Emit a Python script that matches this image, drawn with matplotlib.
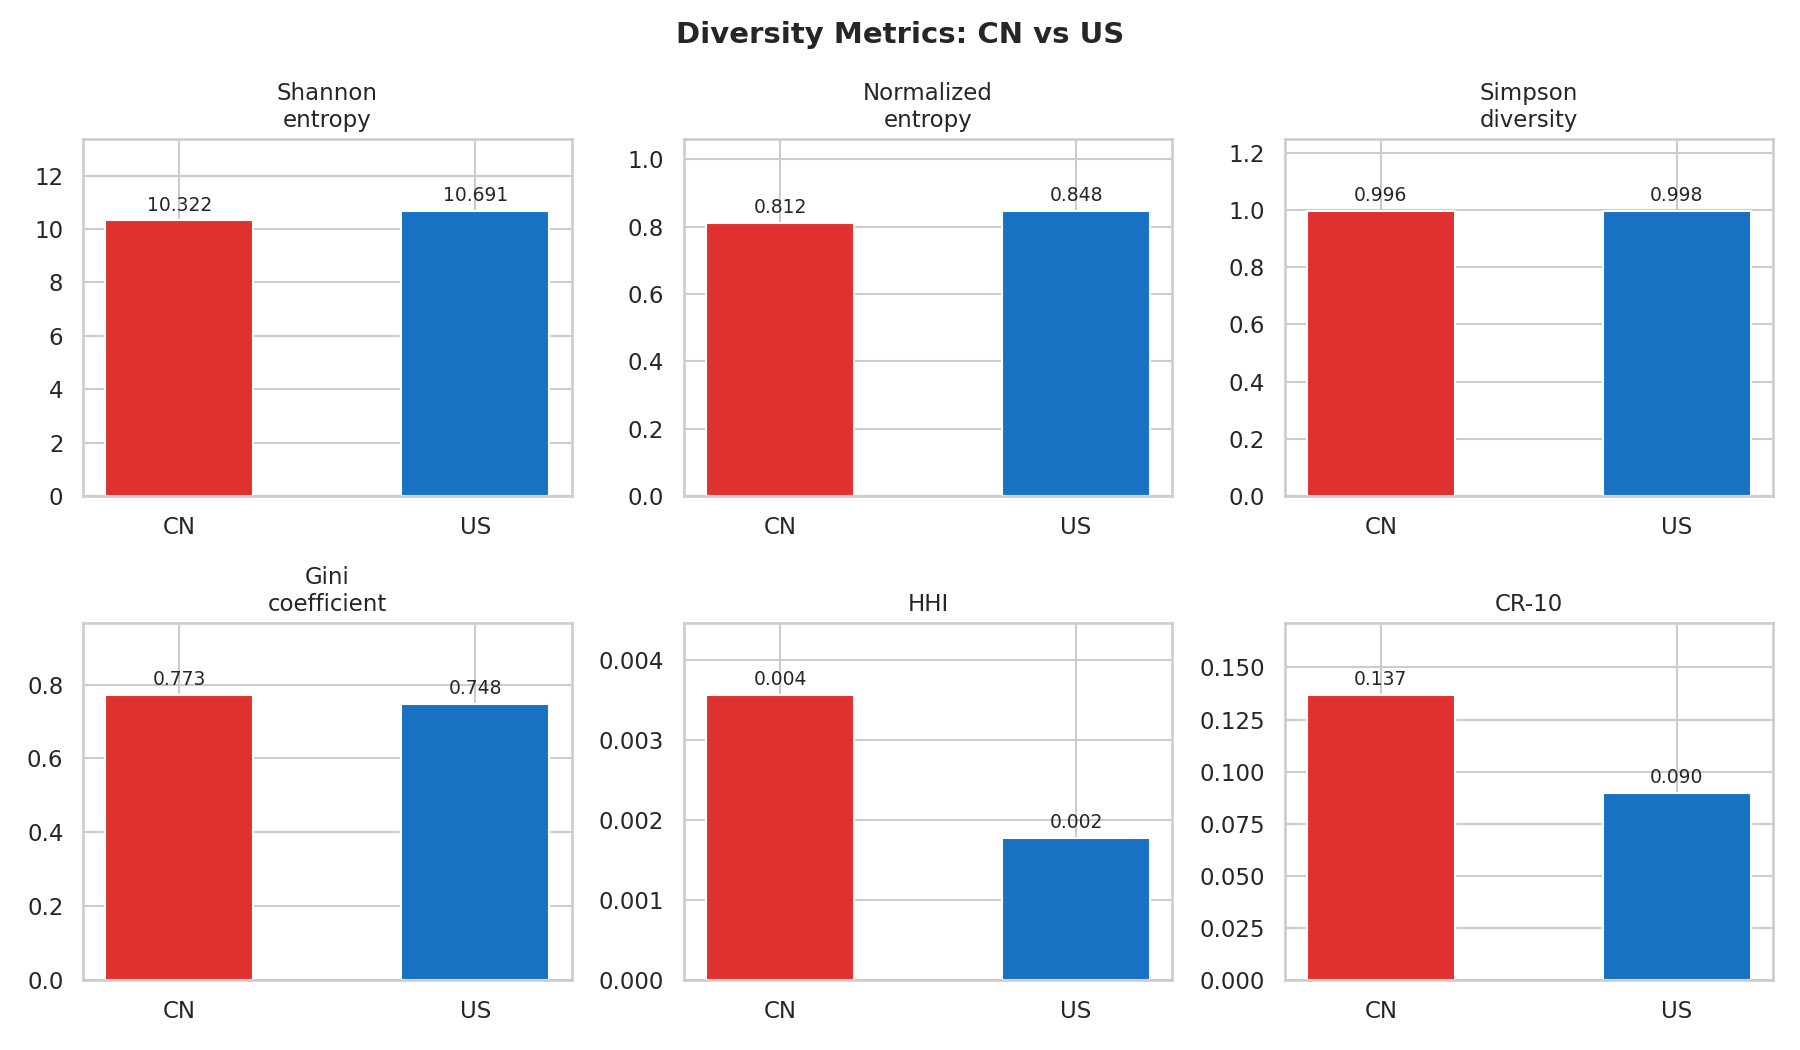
import numpy as np
import matplotlib
matplotlib.use("Agg")
import matplotlib.pyplot as plt
import seaborn as sns

sns.set_theme(style="whitegrid")

countries = ["CN", "US"]
metric_names = ["Shannon entropy", "Normalized entropy", "Simpson diversity",
                "Gini coefficient", "HHI", "CR-10"]
cn_values = [10.322, 0.812, 0.996, 0.773, 0.00357, 0.137]
us_values = [10.691, 0.848, 0.998, 0.748, 0.00178, 0.090]
bar_colors = ["#e03131", "#1971c2"]

fig, axes = plt.subplots(2, 3, figsize=(12, 7), dpi=150)

for ax, name, cn, us in zip(axes.flat, metric_names, cn_values, us_values):
    vals = [cn, us]
    x = np.arange(len(countries))
    bars = ax.bar(x, vals, width=0.5, color=bar_colors)
    ax.set_xticks(x)
    ax.set_xticklabels(countries)
    ax.set_title(name.replace(" ", "\n"), fontsize=11)
    ax.set_ylim(0, max(vals) * 1.25)
    for b, v in zip(bars, vals):
        ax.text(b.get_x() + b.get_width() / 2, v + max(vals) * 0.02, f"{v:.3f}",
                ha="center", va="bottom", fontsize=9)

fig.suptitle("Diversity Metrics: CN vs US", fontsize=14, fontweight="bold")
plt.tight_layout()
plt.savefig("out.png", dpi=150)
